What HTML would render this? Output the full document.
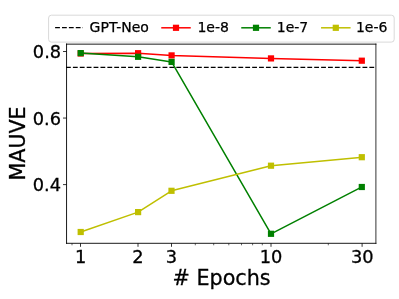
<!DOCTYPE html>
<html>
<head>
<meta charset="utf-8">
<title>MAUVE vs # Epochs</title>
<style>
html,body{margin:0;padding:0;background:#fff;}
svg{display:block;font-family:"DejaVu Sans","Liberation Sans",sans-serif;}
</style>
</head>
<body>
<svg width="399" height="299" viewBox="0 0 399 299">
<rect x="0" y="0" width="399" height="299" fill="#ffffff"/>

<!-- reference dashed line -->
<line x1="66.0" y1="67.3" x2="375.8" y2="67.3" stroke="#000" stroke-width="1.33" stroke-dasharray="4.81 2.085"/>

<!-- red -->
<g stroke="#ff0000" fill="#ff0000">
<polyline points="80.7,53.5 138.1,53.2 171.6,55.4 271,58.4 361.8,60.7" fill="none" stroke-width="1.5" stroke-linejoin="round" stroke-linecap="square"/>
<g stroke="none">
<rect x="77.6" y="50.4" width="6.2" height="6.2"/>
<rect x="135" y="50.1" width="6.2" height="6.2"/>
<rect x="168.5" y="52.3" width="6.2" height="6.2"/>
<rect x="267.9" y="55.3" width="6.2" height="6.2"/>
<rect x="358.7" y="57.6" width="6.2" height="6.2"/>
</g>
</g>

<!-- green -->
<g stroke="#008000" fill="#008000">
<polyline points="80.7,53.1 138.1,56.8 171.6,61.9 271,233.8 361.8,187" fill="none" stroke-width="1.5" stroke-linejoin="round" stroke-linecap="square"/>
<g stroke="none">
<rect x="77.6" y="50" width="6.2" height="6.2"/>
<rect x="135" y="53.7" width="6.2" height="6.2"/>
<rect x="168.5" y="58.8" width="6.2" height="6.2"/>
<rect x="267.9" y="230.7" width="6.2" height="6.2"/>
<rect x="358.7" y="183.9" width="6.2" height="6.2"/>
</g>
</g>

<!-- yellow -->
<g stroke="#bfbf00" fill="#bfbf00">
<polyline points="80.7,232 138.1,212.1 171.5,190.8 271,165.7 361.8,157.2" fill="none" stroke-width="1.5" stroke-linejoin="round" stroke-linecap="square"/>
<g stroke="none">
<rect x="77.6" y="228.9" width="6.2" height="6.2"/>
<rect x="135" y="209" width="6.2" height="6.2"/>
<rect x="168.4" y="187.7" width="6.2" height="6.2"/>
<rect x="267.9" y="162.6" width="6.2" height="6.2"/>
<rect x="358.7" y="154.1" width="6.2" height="6.2"/>
</g>
</g>

<!-- axes frame -->
<g stroke="#000" stroke-width="0.8" stroke-linecap="square">
<line x1="66.55" y1="44.1" x2="66.55" y2="243.3" stroke-width="0.9"/>
<line x1="66.55" y1="243.3" x2="375.9" y2="243.3" stroke-width="0.9"/>
<line x1="66.5" y1="44.15" x2="375.9" y2="44.15" stroke-width="0.9"/>
<line x1="375.9" y1="44.1" x2="375.9" y2="243.3"/>
</g>

<!-- y ticks -->
<g stroke="#000" stroke-width="0.8">
<line x1="63" y1="51.5" x2="66.5" y2="51.5"/>
<line x1="63" y1="118.05" x2="66.5" y2="118.05"/>
<line x1="63" y1="184.6" x2="66.5" y2="184.6"/>
</g>
<!-- x major ticks -->
<g stroke="#000" stroke-width="0.8">
<line x1="80.5" y1="243.3" x2="80.5" y2="246.8"/>
<line x1="138" y1="243.3" x2="138" y2="246.8"/>
<line x1="171.5" y1="243.3" x2="171.5" y2="246.8"/>
<line x1="271" y1="243.3" x2="271" y2="246.8"/>
<line x1="362.1" y1="243.3" x2="362.1" y2="246.8"/>
</g>
<!-- x minor ticks -->
<g stroke="#000" stroke-width="0.6">
<line x1="72" y1="243.3" x2="72" y2="245.3"/>
<line x1="195.3" y1="243.3" x2="195.3" y2="245.3"/>
<line x1="213.7" y1="243.3" x2="213.7" y2="245.3"/>
<line x1="228.8" y1="243.3" x2="228.8" y2="245.3"/>
<line x1="241.5" y1="243.3" x2="241.5" y2="245.3"/>
<line x1="252.6" y1="243.3" x2="252.6" y2="245.3"/>
<line x1="262.3" y1="243.3" x2="262.3" y2="245.3"/>
<line x1="328.3" y1="243.3" x2="328.3" y2="245.3"/>
</g>

<!-- tick labels -->
<g font-size="17.8" fill="#000" stroke="#000" stroke-width="0.3">
<text x="61.1" y="58.4" text-anchor="end">0.8</text>
<text x="61.0" y="125.05" text-anchor="end">0.6</text>
<text x="61.0" y="191.1" text-anchor="end">0.4</text>
<text x="80.7" y="262.6" text-anchor="middle">1</text>
<text x="138" y="262.6" text-anchor="middle">2</text>
<text x="171.5" y="262.6" text-anchor="middle">3</text>
<text x="271" y="262.6" text-anchor="middle">10</text>
<text x="362.2" y="262.6" text-anchor="middle">30</text>
</g>

<!-- axis labels -->
<text x="221.6" y="285.3" font-size="20.7" text-anchor="middle" fill="#000" stroke="#000" stroke-width="0.3"># Epochs</text>
<text transform="translate(25.1,143.45) rotate(-90)" font-size="20.6" text-anchor="middle" fill="#000" stroke="#000" stroke-width="0.3">MAUVE</text>

<!-- legend -->
<rect x="48.6" y="15.2" width="345.6" height="26.9" rx="2.8" ry="2.8" fill="#ffffff" fill-opacity="0.8" stroke="#d9d9d9" stroke-width="1"/>
<line x1="55.1" y1="27.65" x2="83.0" y2="27.65" stroke="#000" stroke-width="1.33" stroke-dasharray="4.81 2.085"/>
<g font-size="14" fill="#000" stroke="#000" stroke-width="0.25">
<text x="89.6" y="32.3">GPT-Neo</text>
<text x="197.4" y="32.3">1e-8</text>
<text x="276.8" y="32.3">1e-7</text>
<text x="355.9" y="32.3">1e-6</text>
</g>
<g stroke-width="1.5" stroke-linecap="square">
<line x1="162" y1="27.8" x2="190" y2="27.8" stroke="#ff0000"/>
<line x1="242" y1="27.8" x2="270" y2="27.8" stroke="#008000"/>
<line x1="321.8" y1="27.8" x2="349.8" y2="27.8" stroke="#bfbf00"/>
</g>
<rect x="172.9" y="24.7" width="6.2" height="6.2" fill="#ff0000"/>
<rect x="252.9" y="24.7" width="6.2" height="6.2" fill="#008000"/>
<rect x="332.7" y="24.7" width="6.2" height="6.2" fill="#bfbf00"/>
</svg>
</body>
</html>
